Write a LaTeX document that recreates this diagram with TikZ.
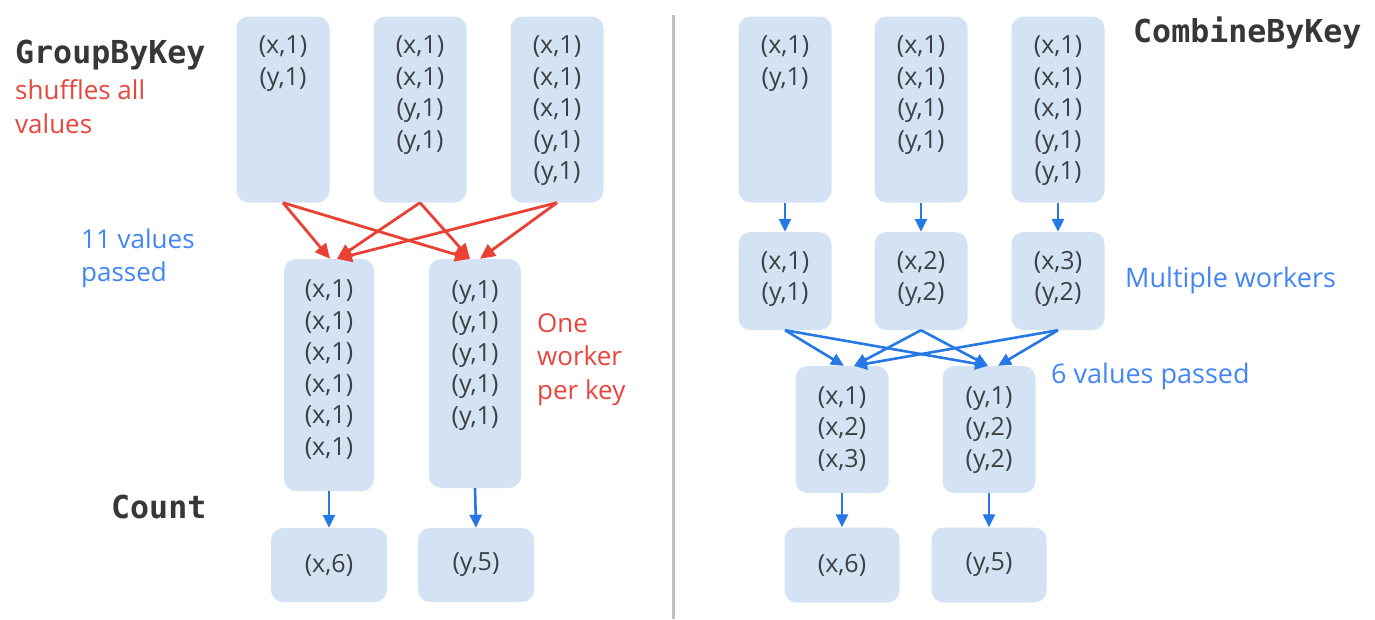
\documentclass[tikz,border=0pt]{standalone}
\usepackage{fontspec}
\setmainfont{Open Sans}
\setmonofont{DejaVu Sans Mono}
\usetikzlibrary{arrows.meta}
\definecolor{boxblue}{RGB}{211,227,244}
\definecolor{txtgray}{RGB}{60,64,67}
\definecolor{hdrgray}{RGB}{55,55,55}
\definecolor{redtxt}{RGB}{232,69,60}
\definecolor{redline}{RGB}{233,66,53}
\definecolor{bluetxt}{RGB}{66,133,244}
\definecolor{blueline}{RGB}{38,120,228}
\definecolor{divgray}{RGB}{190,190,190}
\tikzset{
  box/.style={fill=boxblue, rounded corners=12pt, inner sep=0pt, draw=none},
  val/.style={text=txtgray, font=\fontsize{25}{31.5}\selectfont, align=center, inner sep=0pt, anchor=base},
  single/.style={text=txtgray, font=\fontsize{25}{31.5}\selectfont, inner sep=0pt},
  hdr/.style={text=hdrgray, font=\ttfamily\bfseries\fontsize{31.6}{34}\selectfont, anchor=base west, inner sep=0pt},
  redlbl/.style={text=redtxt, font=\fontsize{26}{33.5}\selectfont, align=left, anchor=base west, inner sep=0pt},
  bluelbl/.style={text=bluetxt, font=\fontsize{26}{33}\selectfont, align=left, anchor=base west, inner sep=0pt},
  redarr/.style={draw=redline, line width=2.8pt, -{Triangle[length=15pt,width=14pt]}},
  bluearr/.style={draw=blueline, line width=2.6pt, -{Triangle[length=13pt,width=12pt]}},
}
\begin{document}
\begin{tikzpicture}[x=1pt,y=-1pt]
\useasboundingbox (0,0) rectangle (1375,619);
% divider
\draw[divgray, line width=3pt] (673,15) -- (673,619);

% ---------- left: GroupByKey ----------
\node[box, minimum width=93pt, minimum height=186pt] (a1) at (283,109.5) {};
\node[box, minimum width=93pt, minimum height=186pt] (a2) at (420,109.5) {};
\node[box, minimum width=93pt, minimum height=186pt] (a3) at (557,109.5) {};
% anchor base = baseline of last line
\node[val] (a1t) at ([yshift=-69pt]a1.north) {(x,1)\\(y,1)};
\node[val] (a2t) at ([yshift=-132pt]a2.north) {(x,1)\\(x,1)\\(y,1)\\(y,1)};
\node[val] (a3t) at ([yshift=-163.5pt]a3.north) {(x,1)\\(x,1)\\(x,1)\\(y,1)\\(y,1)};

\node[box, minimum width=90pt, minimum height=232pt] (b1) at (329,375) {};
\node[box, minimum width=92pt, minimum height=229pt] (b2) at (475,373.5) {};
\node[val] (b1t) at ([yshift=-196.5pt]b1.north) {(x,1)\\(x,1)\\(x,1)\\(x,1)\\(x,1)\\(x,1)};
\node[val] (b2t) at ([yshift=-165.5pt]b2.north) {(y,1)\\(y,1)\\(y,1)\\(y,1)\\(y,1)};

\node[box, minimum width=116pt, minimum height=74pt] (c1) at (329,565) {};
\node[box, minimum width=116pt, minimum height=74pt] (c2) at (476,565) {};
\node[single] (c1t) at (c1) {(x,6)};
\node[single] (c2t) at (c2) {(y,5)};

\draw[redarr] (a1.south) -- ([xshift=1pt]b1.north);
\draw[redarr] (a2.south) -- ([xshift=8pt]b1.north);
\draw[redarr] (a3.south) -- ([xshift=8pt]b1.north);
\draw[redarr] (a1.south) -- ([xshift=-5pt]b2.north);
\draw[redarr] (a2.south) -- ([xshift=-5pt]b2.north);
\draw[redarr] (a3.south) -- ([xshift=5pt]b2.north);

\draw[bluearr] (b1.south) -- (c1.north);
\draw[bluearr] (b2.south) -- (c2.north);

\node[hdr] (gbk) at (15,63) {GroupByKey};
\node[redlbl] (shuf) at (15,133) {shuffles all\\values};
\node[bluelbl] (elev) at (81,281) {11 values\\passed};
\node[redlbl] (one) at (537,399) {One\\worker\\per key};
\node[hdr] (cnt) at (111,518) {Count};

% ---------- right: CombineByKey ----------
\node[box, minimum width=93pt, minimum height=186pt] (d1) at (785,109.5) {};
\node[box, minimum width=93pt, minimum height=186pt] (d2) at (921,109.5) {};
\node[box, minimum width=93pt, minimum height=186pt] (d3) at (1058,109.5) {};
\node[val] (d1t) at ([yshift=-69pt]d1.north) {(x,1)\\(y,1)};
\node[val] (d2t) at ([yshift=-132pt]d2.north) {(x,1)\\(x,1)\\(y,1)\\(y,1)};
\node[val] (d3t) at ([yshift=-163.5pt]d3.north) {(x,1)\\(x,1)\\(x,1)\\(y,1)\\(y,1)};

\node[box, minimum width=93pt, minimum height=98pt] (e1) at (785,281) {};
\node[box, minimum width=93pt, minimum height=98pt] (e2) at (921,281) {};
\node[box, minimum width=93pt, minimum height=98pt] (e3) at (1058,281) {};
\node[val] (e1t) at ([yshift=-69pt]e1.north) {(x,1)\\(y,1)};
\node[val] (e2t) at ([yshift=-69pt]e2.north) {(x,2)\\(y,2)};
\node[val] (e3t) at ([yshift=-69pt]e3.north) {(x,3)\\(y,2)};

\node[box, minimum width=93pt, minimum height=127pt] (f1) at (842,429.5) {};
\node[box, minimum width=93pt, minimum height=127pt] (f2) at (989,429.5) {};
\node[val] (f1t) at ([yshift=-101.5pt]f1.north) {(x,1)\\(x,2)\\(x,3)};
\node[val] (f2t) at ([yshift=-101.5pt]f2.north) {(y,1)\\(y,2)\\(y,2)};

\node[box, minimum width=115pt, minimum height=75pt] (g1) at (842,565) {};
\node[box, minimum width=115pt, minimum height=75pt] (g2) at (989,565) {};
\node[single] (g1t) at (g1) {(x,6)};
\node[single] (g2t) at (g2) {(y,5)};

\draw[bluearr] (d1.south) -- (e1.north);
\draw[bluearr] (d2.south) -- (e2.north);
\draw[bluearr] (d3.south) -- (e3.north);

\draw[bluearr] (e1.south) -- ([xshift=2pt]f1.north);
\draw[bluearr] (e2.south) -- ([xshift=12pt]f1.north);
\draw[bluearr] (e3.south) -- ([xshift=12pt]f1.north);
\draw[bluearr] (e1.south) -- ([xshift=-1pt]f2.north);
\draw[bluearr] (e2.south) -- ([xshift=-1pt]f2.north);
\draw[bluearr] (e3.south) -- ([xshift=9pt]f2.north);

\draw[bluearr] (f1.south) -- (g1.north);
\draw[bluearr] (f2.south) -- (g2.north);

\node[hdr] (cbk) at (1133,42) {CombineByKey};
\node[bluelbl, font=\fontsize{27}{33}\selectfont] (mw) at (1125,287) {Multiple workers};
\node[bluelbl, font=\fontsize{27}{33}\selectfont] (six) at (1051,383) {6 values passed};
\end{tikzpicture}
\end{document}
